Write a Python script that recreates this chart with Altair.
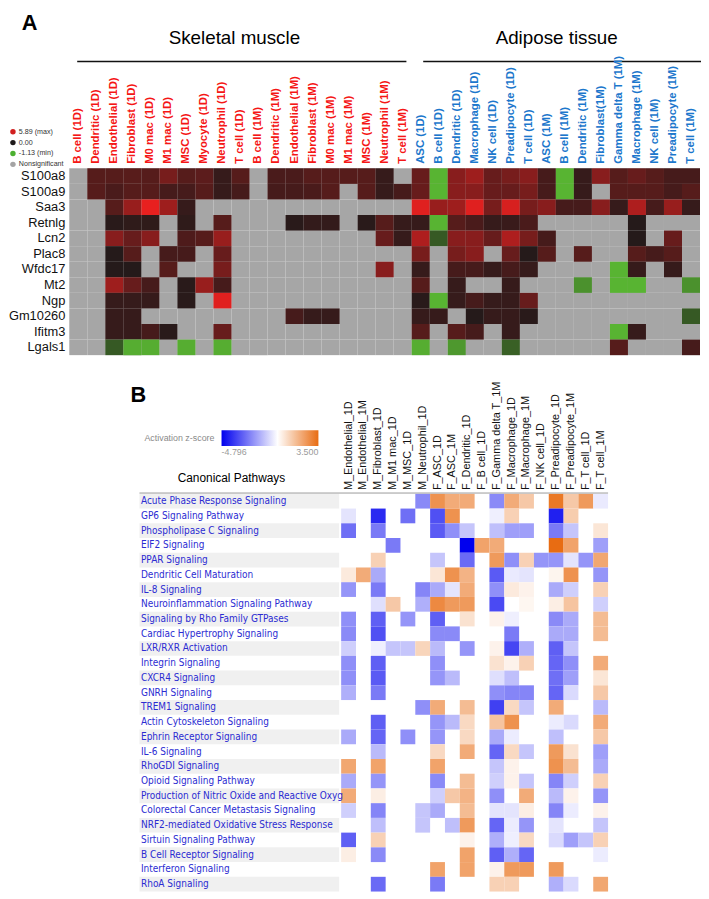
import altair as alt
import pandas as pd

N = None

# ---------------- Panel A : gene log fold change ----------------
sm_cells = ["B cell (1D)", "Dendritic (1D)", "Endothelial (1D)", "Fibroblast (1D)", "M0 mac (1D)",
            "M1 mac (1D)", "MSC (1D)", "Myocyte (1D)", "Neutrophil (1D)", "T cell (1D)",
            "B cell (1M)", "Dendritic (1M)", "Endothelial (1M)", "Fibroblast (1M)", "M0 mac (1M)",
            "M1 mac (1M)", "MSC (1M)", "Neutrophil (1M)", "T cell (1M)"]
at_cells = ["ASC (1D)", "B cell (1D)", "Dendritic (1D)", "Macrophage (1D)", "NK cell (1D)",
            "Preadipocyte (1D)", "T cell (1D)", "ASC (1M)", "B cell (1M)", "Dendritic (1M)",
            "Fibroblast(1M)", "Gamma delta T (1M)", "Macrophage (1M)", "NK cell (1M)",
            "Preadipocyte (1M)", "T cell (1M)"]
genes = ["S100a8", "S100a9", "Saa3", "Retnlg", "Lcn2", "Plac8", "Wfdc17", "Mt2", "Ngp",
         "Gm10260", "Ifitm3", "Lgals1"]

s100a8 = [N, 1.64, 1.64, 1.7, 1.64, 2.6, 1.64, 1.8, 0.69, 1.64, N, 1.29, 1.29, 1.64, 1.64, 1.64, 1.64, 0.69, N,
          2.12, -1.1, 3.08, 3.74, 2.12, 2.6, 3.08, 1.17, -1.1, 0.69, 3.08, 1.64, 2.12, 1.64, 1.17, 1.17]
s100a9 = [N, 1.64, 1.29, 1.64, 1.64, 1.17, 1.17, 1.64, 0.69, 1.17, N, 1.17, 1.17, 1.29, 1.64, N, 1.64, 0.69, 1.17,
          2.12, -1.1, 3.08, 3.08, 2.12, 2.12, 2.6, 1.17, -1.1, 0.69, N, 1.64, 1.64, 1.64, 1.17, 1.64]
saa3 = [N, N, 1.64, 3.56, 5.89, 3.74, 0.69, N, N, N, N, N, N, N, N, N, N, N, N,
        5.65, 3.56, 3.74, 5.65, 2.6, 5.4, 2.6, 3.08, 1.17, 1.17, 3.08, 0.69, 4.2, 1.17, 3.56, 0.69]
retnlg = [N, N, 0.33, 0.5, 0.5, N, 0.5, N, 1.64, N, N, N, 0.33, 0.6, 0.6, N, 0.33, 1.64, 0.69,
          0.69, -1.1, 1.64, 1.29, 0.69, 0.8, 1.29, N, N, N, N, N, 0.21, N, N, N]
lcn2 = [N, N, 3.08, 2.12, 3.08, N, 1.4, 1.64, 3.56, N, N, N, N, N, N, N, N, 2.12, 0.69,
        4.2, -0.45, 3.08, 3.08, 2.12, 4.2, 2.6, 1.17, N, N, N, N, 0.21, N, 2.12, N]
plac8 = [N, N, 0.21, 1.64, N, 1.17, 1.17, N, 2.12, N, N, N, N, N, N, N, N, N, N,
         2.6, N, 2.6, 3.08, N, 2.12, 0.21, 1.64, N, 1.64, N, N, 1.64, 1.17, 1.64, N]
wfdc17 = [N, N, 0.21, 0.21, N, 1.64, N, N, 2.6, N, N, N, N, N, N, N, N, 3.08, N,
          0.69, N, 1.17, 1.17, 0.69, 1.17, 0.69, N, N, N, N, -1.1, 0.69, N, 0.69, N]
mt2 = [N, N, 3.74, 2.12, 1.17, N, 0.33, 3.56, 1.17, N, N, N, N, N, N, N, N, N, N,
       1.64, N, 0.69, N, N, 0.69, N, N, N, -0.85, N, -1.1, -1.1, N, N, -0.85]
ngp = [N, N, 0.69, 0.69, 0.69, N, 0.33, N, 5.65, N, N, N, N, N, N, N, N, N, N,
       0.33, -1.1, 0.69, 1.17, 0.69, 0.69, 2.12, N, N, N, N, N, N, N, N, N]
gm10260 = [N, N, 0.69, 0.69, N, N, N, N, N, N, N, N, 1.17, 0.69, 0.69, N, N, N, N,
           0.69, 0.69, N, 0.21, 0.69, 0.69, 0.33, N, N, N, N, N, N, N, N, -0.45]
ifitm3 = [N, N, 0.69, 0.69, 1.17, 0.33, N, N, 2.12, N, N, N, N, N, N, N, N, N, N,
          1.64, N, 1.64, 1.17, N, 0.69, N, N, N, N, N, -1.1, 0.69, N, N, N]
lgals1 = [N, N, -0.45, -1.05, -1.05, N, -1.05, N, -1.05, N, N, N, N, N, N, N, N, N, N,
          -1.05, N, -0.9, N, N, -0.5, N, N, N, N, N, 1.64, N, N, N, 1.17]
rows_a = [s100a8, s100a9, saa3, retnlg, lcn2, plac8, wfdc17, mt2, ngp, gm10260, ifitm3, lgals1]

fc_min, fc_max = -1.13, 5.89
legend_a_labels = [f"{fc_max:.2f} (max)", "0.00", f"{fc_min:.2f} (min)", "Nonsignificant"]
legend_a_colors = ["#d11f1f", "#1e1a1a", "#4cb030", "#a4a4a4"]

# ---------------- Panel B : IPA activation z-scores ----------------
cols_b = ["M_Endothelial_1D", "M_Endothelial_1M", "M_Fibroblast_1D", "M_M1 mac_1D", "M_MSC_1D",
          "M_Neutrophil_1D", "F_ASC_1D", "F_ASC_1M", "F_Dendritic_1D", "F_B cell_1D",
          "F_Gamma delta T_1M", "F_Macrophage_1D", "F_Macrophage_1M", "F_NK cell_1D",
          "F_Preadipocyte_1D", "F_Preadipocyte_1M", "F_T cell_1D", "F_T cell_1M"]
pathways = ["Acute Phase Response Signaling", "GP6 Signaling Pathway", "Phospholipase C Signaling",
            "EIF2 Signaling", "PPAR Signaling", "Dendritic Cell Maturation", "IL-8 Signaling",
            "Neuroinflammation Signaling Pathway", "Signaling by Rho Family GTPases",
            "Cardiac Hypertrophy Signaling", "LXR/RXR Activation", "Integrin Signaling",
            "CXCR4 Signaling", "GNRH Signaling", "TREM1 Signaling", "Actin Cytoskeleton Signaling",
            "Ephrin Receptor Signaling", "IL-6 Signaling", "RhoGDI Signaling", "Opioid Signaling Pathway",
            "Production of Nitric Oxide and Reactive Oxyg", "Colorectal Cancer Metastasis Signaling",
            "NRF2-mediated Oxidative Stress Response", "Sirtuin Signaling Pathway",
            "B Cell Receptor Signaling", "Interferon Signaling", "RhoA Signaling"]

acute = [N, N, N, N, N, -2.2, 2.6, 2.0, 2.0, N, -2.2, 2.0, 1.3, N, 3.2, 1.3, 2.4, -0.4]
gp6 = [-0.5, N, -4.0, N, -2.7, N, -3.3, 2.6, N, N, -0.3, 1.1, N, N, -4.2, 1.2, N, N]
plc = [-2.7, N, -2.5, N, N, N, -3.1, -2.1, -1.1, N, -1.2, -1.8, -1.8, N, -2.5, -1.1, N, 0.6]
eif2 = [N, N, N, -2.5, N, N, N, N, -4.796, 2.2, 2.0, N, N, N, 3.5, 2.2, N, -1.8]
ppar = [N, N, 1.1, N, N, N, -1.1, N, -2.8, N, 2.4, -2.1, 1.1, -2.0, -2.0, -0.5, -2.0, 2.1]
dcm = [0.5, 2.0, -1.6, N, N, N, 0.6, 2.6, 1.8, N, -3.1, -0.4, -0.5, N, 0.25, 2.6, N, -2.0]
il8 = [-2.0, N, -2.5, N, N, -2.3, -1.6, -0.5, 2.0, N, -2.1, 0.5, 0.3, N, -1.6, -0.9, N, 1.1]
neuro = [N, N, -0.6, 1.3, N, -1.5, 2.8, 2.4, 2.4, N, -3.4, N, 0.2, N, 0.4, 1.4, N, -0.9]
rho = [-2.1, N, -3.0, N, -2.0, N, -3.0, N, 0.7, N, 0.3, -0.3, N, N, -2.2, -1.6, N, 1.6]
cardiac = [-2.2, N, -3.3, N, N, N, -2.2, -2.2, N, N, N, -2.5, N, N, -1.6, -1.6, N, 1.6]
lxr = [-0.9, N, -0.3, -1.1, -1.1, 1.0, -1.3, N, -2.0, N, 0.3, -3.5, -1.5, N, -3.0, -1.1, N, N]
integrin = [-2.1, N, -3.0, N, N, N, -2.1, N, N, N, 0.7, 0.3, 1.1, N, -2.9, -2.1, N, 2.0]
cxcr4 = [-2.1, N, -3.1, N, N, N, -2.0, -1.3, N, N, -0.6, -1.2, N, N, -2.7, -1.8, N, 0.6]
gnrh = [-1.5, N, -2.5, N, N, N, N, N, N, N, -2.1, -2.3, -2.3, N, -2.9, -0.7, N, 1.3]
trem1 = [N, N, N, N, N, -2.1, 2.0, N, 1.6, N, -3.6, 0.9, -1.1, N, 2.0, N, N, -1.3]
actin = [N, N, -3.0, N, N, N, -2.0, -1.3, 0.9, N, 1.4, 2.6, N, N, -0.35, -0.7, N, 2.0]
ephrin = [-1.6, N, -2.9, N, -2.1, N, -2.0, N, 0.9, N, -1.6, -0.35, N, N, -1.2, N, N, 1.3]
il6 = [N, N, -1.3, N, N, N, 0.9, N, 2.0, N, -2.9, 0.9, -1.1, N, 2.4, 0.7, N, -1.8]
rhogdi = [2.1, N, 2.2, N, N, N, 2.2, N, N, N, -1.1, 0.3, N, N, 2.6, 1.6, N, -1.6]
opioid = [-1.6, N, -2.0, N, N, N, -2.2, N, 1.6, N, -0.9, 0.3, -1.1, N, -2.3, -0.9, N, 1.1]
nitric = [2.0, N, 0.4, N, N, N, -0.9, 1.3, 1.8, N, -2.1, N, 2.0, N, -1.3, 0.3, N, -2.0]
colorectal = [-0.9, N, -2.3, N, N, -1.1, -1.6, N, 1.6, N, -0.5, -0.5, 0.4, N, -2.3, -0.35, N, 0.3]
nrf2 = [N, N, -1.2, N, N, -1.1, N, -1.2, 2.4, N, -2.9, -0.35, -2.0, N, -0.5, N, N, -1.1]
sirtuin = [-3.0, N, 1.1, N, N, N, N, N, 0.3, N, -1.5, -0.3, 0.9, N, -0.7, -1.8, -1.1, 1.1]
bcr = [0.4, N, -2.2, N, N, N, N, N, 2.2, N, -3.0, -1.5, -2.9, N, N, N, N, -0.35]
interferon = [N, N, N, N, N, N, 2.2, N, 2.2, N, 0.3, 2.4, 2.4, N, 2.4, N, N, N]
rhoa = [N, N, -2.8, N, N, N, -2.5, N, N, N, 1.1, 1.1, N, N, -1.5, -0.7, N, 2.1]
rows_b = [acute, gp6, plc, eif2, ppar, dcm, il8, neuro, rho, cardiac, lxr, integrin, cxcr4, gnrh,
          trem1, actin, ephrin, il6, rhogdi, opioid, nitric, colorectal, nrf2, sirtuin, bcr,
          interferon, rhoa]
z_min, z_max = -4.796, 3.500

# ---------------- tables ----------------
cols_a = ["SM|" + c for c in sm_cells] + ["AT|" + c for c in at_cells]
df_a = pd.DataFrame([{"gene": g, "col": c, "fc": v}
                     for g, row in zip(genes, rows_a) for c, v in zip(cols_a, row)])
df_a_sig = df_a.dropna()
df_b = pd.DataFrame([{"pathway": p, "col": c, "z": v}
                     for p, row in zip(pathways, rows_b) for c, v in zip(cols_b, row)])
df_b_sig = df_b.dropna()
df_stripes = pd.DataFrame({"pathway": pathways[::2]})
df_leg = pd.DataFrame({"key": legend_a_labels})
one = pd.DataFrame({"k": [0]})

FONT = "Liberation Sans"

# ---------------- scales ----------------
sx_a = alt.Scale(domain=cols_a, range=[62, 700], paddingInner=0, paddingOuter=0)
sy_a = alt.Scale(domain=genes, range=[157, 346], paddingInner=0, paddingOuter=0)
sx_b = alt.Scale(domain=cols_b, range=[337, 607], paddingInner=0, paddingOuter=0)
sy_b = alt.Scale(domain=pathways, range=[486.3, 888.6], paddingInner=0, paddingOuter=0)

axis_xa = alt.Axis(orient="top", offset=-157, labelAngle=-90, labelFont=FONT, labelFontSize=11.5,
                   labelFontWeight="bold",
                   labelColor={"condition": {"test": "indexof(datum.value, 'SM|') == 0", "value": "#f51616"},
                               "value": "#1c77cc"},
                   labelExpr="slice(datum.value, 3)", ticks=False, tickSize=0, domain=False,
                   labelPadding=5, title=None, labelOverlap=False, zindex=1)
axis_ya = alt.Axis(orient="left", offset=-62, labelFont=FONT, labelFontSize=13, labelColor="#111",
                   ticks=False, tickSize=0, domain=False, labelPadding=4.5, title=None, zindex=1)
axis_xb = alt.Axis(orient="top", offset=-486, labelAngle=-90, labelFont=FONT, labelFontSize=11,
                   labelColor="#111", ticks=False, tickSize=0, domain=False, labelPadding=4,
                   title=None, labelOverlap=False, zindex=1)
axis_yb = alt.Axis(orient="left", offset=-337, labelAlign="left", labelPadding=203,
                   labelFont="DejaVu Sans Condensed, DejaVu Sans", labelFontSize=10.1,
                   labelColor="#2b2bd2", labelLimit=210, ticks=False, tickSize=0, domain=False,
                   title=None, zindex=1, labelOverlap=False)

# ---------------- panel A layers ----------------
gray_a = alt.Chart(df_a).mark_rect(color="#a6a6a6").encode(
    x=alt.X("col:N", scale=sx_a, axis=axis_xa),
    y=alt.Y("gene:N", scale=sy_a, axis=axis_ya),
)
heat_a = alt.Chart(df_a_sig).mark_rect().encode(
    x=alt.X("col:N", scale=sx_a, axis=None),
    y=alt.Y("gene:N", scale=sy_a, axis=None),
    color=alt.Color("fc:Q", scale=alt.Scale(domain=[fc_min, 0, fc_max],
                                            range=["#5ab833", "#1e1a1a", "#e8201f"],
                                            interpolate="rgb"), legend=None),
)
leg_y = alt.Y("key:N", scale=alt.Scale(domain=legend_a_labels, range=[120, 153], padding=0), axis=None)
leg_pts = alt.Chart(df_leg).mark_circle(size=30, opacity=1).encode(
    x=alt.value(5), y=leg_y,
    color=alt.Color("key:N", scale=alt.Scale(domain=legend_a_labels, range=legend_a_colors), legend=None),
)
leg_txt = alt.Chart(df_leg).mark_text(align="left", baseline="middle", fontSize=7.2, font=FONT,
                                      color="#333").encode(x=alt.value(11), y=leg_y, text="key:N")

t_a = alt.Chart(one).mark_text(text="A", font=FONT, fontSize=22, fontWeight="bold", align="left",
                               baseline="alphabetic").encode(x=alt.value(14), y=alt.value(17))
t_sm = alt.Chart(one).mark_text(text="Skeletal muscle", font=FONT, fontSize=19, align="center",
                                baseline="alphabetic").encode(x=alt.value(229), y=alt.value(31))
t_at = alt.Chart(one).mark_text(text="Adipose tissue", font=FONT, fontSize=19, align="center",
                                baseline="alphabetic").encode(x=alt.value(555), y=alt.value(31))
l_sm = alt.Chart(one).mark_rule(color="#111", strokeWidth=1.5).encode(
    x=alt.value(70), x2=alt.value(403), y=alt.value(49))
l_at = alt.Chart(one).mark_rule(color="#111", strokeWidth=1.5).encode(
    x=alt.value(420), x2=alt.value(701), y=alt.value(49))

# ---------------- panel B layers ----------------
stripes = alt.Chart(df_stripes).mark_rect(color="#f0f0f0").encode(
    x=alt.value(133), x2=alt.value(335),
    y=alt.Y("pathway:N", scale=sy_b, axis=None),
)
heat_b = alt.Chart(df_b_sig).mark_rect().encode(
    x=alt.X("col:N", scale=sx_b, axis=axis_xb),
    y=alt.Y("pathway:N", scale=sy_b, axis=axis_yb),
    color=alt.Color("z:Q",
                    scale=alt.Scale(domain=[z_min, 0, z_max], range=["#0000ee", "#ffffff", "#e86c12"],
                                    interpolate="rgb"),
                    legend=alt.Legend(orient="none", legendX=138, legendY=422, direction="horizontal",
                                      title="Activation z-score", titleOrient="left",
                                      titleFont=FONT, titleFontSize=9, titleFontWeight="normal",
                                      titleColor="#8a8a8a", titlePadding=6, titleBaseline="middle",
                                      gradientLength=98, gradientThickness=16, gradientStrokeWidth=0,
                                      values=[z_min, z_max],
                                      labelExpr=f"datum.value < 0 ? '{z_min:.3f}' : '{z_max:.3f}'",
                                      labelFont=FONT, labelFontSize=9, labelColor="#9a9a9a")),
)
sep = alt.Chart(one).mark_rule(color="#9a9a9a", strokeWidth=1).encode(
    x=alt.value(133), x2=alt.value(607), y=alt.value(485.5))
t_b = alt.Chart(one).mark_text(text="B", font=FONT, fontSize=22, fontWeight="bold", align="left",
                               baseline="alphabetic").encode(x=alt.value(124), y=alt.value(393))
t_cp = alt.Chart(one).mark_text(text="Canonical Pathways", font=FONT, fontSize=12, align="center",
                                baseline="alphabetic").encode(x=alt.value(226), y=alt.value(474))

chart = alt.layer(
    gray_a, heat_a, leg_pts, leg_txt, t_a, t_sm, t_at, l_sm, l_at,
    stripes, heat_b, sep, t_b, t_cp,
).resolve_scale(
    x="independent", y="independent", color="independent"
).properties(
    width=701, height=891, autosize=alt.AutoSizeParams(type="none"), padding=0
).configure_view(stroke=None)

chart.save("out.html", embed_options={"renderer": "svg", "actions": False})
